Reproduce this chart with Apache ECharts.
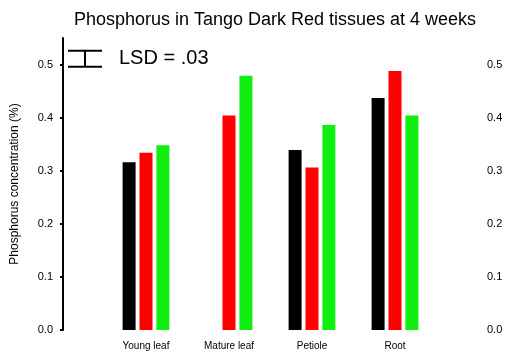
<!DOCTYPE html>
<html>
<head>
<meta charset="utf-8">
<script src="https://cdn.jsdelivr.net/npm/echarts@6/dist/echarts.min.js"></script>
<style>
  html, body { margin: 0; padding: 0; background: #fff; }
  #chart { width: 512px; height: 355px; }
</style>
</head>
<body>
<div id="chart"></div>
<script>
// Tissue groups along the x axis
const tissues = ['Young leaf', 'Mature leaf', 'Petiole', 'Root'];

// Phosphorus concentration per tissue, one array per series
const blackSeries = [0.316, null, 0.339, 0.437];
const redSeries = [0.334, 0.404, 0.306, 0.488];
const greenSeries = [0.348, 0.479, 0.386, 0.404];

// Value axis ticks
const yTicks = ['0.0', '0.1', '0.2', '0.3', '0.4', '0.5'];

// Least significant difference bracket
const lsdValue = 0.03;
const lsdTop = 0.526;

const chart = echarts.init(document.getElementById('chart'));
const font = 'Liberation Sans, Arial, sans-serif';

const barCommon = {
  type: 'bar',
  barWidth: 13,
  barGap: '30%',
  xAxisIndex: 0,
  yAxisIndex: 0
};

const yAxisCommon = {
  type: 'value',
  min: 0,
  max: 0.55,
  interval: 0.1,
  splitLine: { show: false },
  offset: 41.5,
  axisLabel: {
    showMaxLabel: false,
    fontFamily: font,
    fontSize: 11,
    color: '#000',
    formatter: function (v) {
      const i = Math.round(v * 10);
      return yTicks[i] !== undefined ? yTicks[i] : '';
    }
  }
};

chart.setOption({
  animation: false,
  backgroundColor: '#fff',
  title: {
    text: 'Phosphorus in Tango Dark Red tissues at 4 weeks',
    left: 270,
    textAlign: 'center',
    top: 6,
    textStyle: { fontFamily: font, fontSize: 18, fontWeight: 'normal', color: '#000' }
  },
  grid: { left: 104.5, right: 75.5, top: 38, bottom: 25, outerBoundsMode: 'none', containLabel: false },
  xAxis: {
    type: 'category',
    data: tissues,
    axisLine: { show: false },
    axisTick: { show: false },
    axisLabel: { fontFamily: font, fontSize: 10, color: '#000', margin: 11 }
  },
  yAxis: [
    Object.assign({}, yAxisCommon, {
      position: 'left',
      name: 'Phosphorus concentration (%)',
      nameLocation: 'middle',
      nameGap: 42,
      nameTextStyle: { fontFamily: font, fontSize: 12, color: '#000' },
      axisLine: { show: true, lineStyle: { color: '#000', width: 2 } },
      axisTick: { show: true, length: 3, lineStyle: { color: '#000', width: 2 } },
      axisLabel: Object.assign({}, yAxisCommon.axisLabel, { margin: 10 })
    }),
    Object.assign({}, yAxisCommon, {
      position: 'right',
      axisLine: { show: false },
      axisTick: { show: false },
      axisLabel: Object.assign({}, yAxisCommon.axisLabel, { margin: 9 })
    })
  ],
  series: [
    Object.assign({}, barCommon, { name: 'A', data: blackSeries, itemStyle: { color: '#000000' } }),
    Object.assign({}, barCommon, { name: 'B', data: redSeries, itemStyle: { color: '#ff0000' } }),
    Object.assign({}, barCommon, { name: 'C', data: greenSeries, itemStyle: { color: '#11ee11' } }),
    {
      // LSD bracket drawn in data units, plus its label
      type: 'custom',
      clip: false,
      silent: true,
      data: [[0, lsdTop]],
      renderItem: function (params, api) {
        const top = api.coord([0, lsdTop])[1];
        const bottom = api.coord([0, lsdTop - lsdValue])[1];
        const cx = 85;
        const half = 17;
        const ls = { stroke: '#000', lineWidth: 2 };
        return {
          type: 'group',
          children: [
            { type: 'line', shape: { x1: cx - half, y1: top, x2: cx + half, y2: top }, style: ls },
            { type: 'line', shape: { x1: cx - half, y1: bottom, x2: cx + half, y2: bottom }, style: ls },
            { type: 'line', shape: { x1: cx, y1: top, x2: cx, y2: bottom }, style: ls },
            {
              type: 'text',
              style: {
                text: 'LSD = .' + String(Math.round(lsdValue * 100)).padStart(2, '0'),
                x: 119,
                y: (top + bottom) / 2,
                verticalAlign: 'middle',
                font: '20px ' + font,
                fill: '#000'
              }
            }
          ]
        };
      }
    }
  ]
});
</script>
</body>
</html>
